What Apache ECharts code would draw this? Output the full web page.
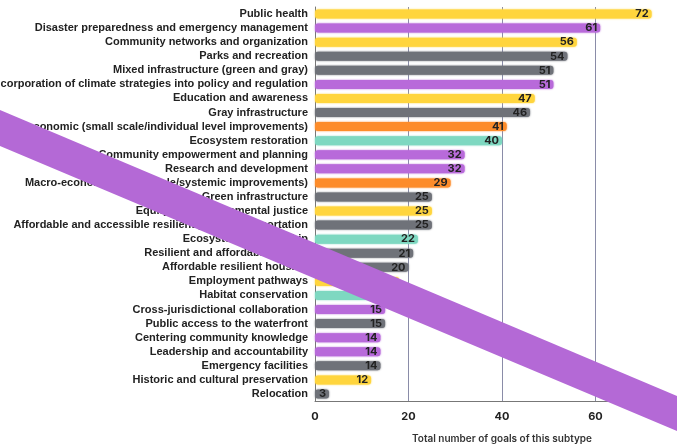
<!DOCTYPE html>
<html><head><meta charset="utf-8">
<script src="https://cdn.jsdelivr.net/npm/echarts@6/dist/echarts.min.js"></script>
<style>html,body{margin:0;padding:0;background:#fff}#c{width:677px;height:446px}</style>
</head><body><div id="c"></div>
<script>
const categories = [
  "Public health",
  "Disaster preparedness and emergency management",
  "Community networks and organization",
  "Parks and recreation",
  "Mixed infrastructure (green and gray)",
  "Incorporation of climate strategies into policy and regulation",
  "Education and awareness",
  "Gray infrastructure",
  "Micro-economic (small scale/individual level improvements)",
  "Ecosystem restoration",
  "Community empowerment and planning",
  "Research and development",
  "Macro-economic (large scale/systemic improvements)",
  "Green infrastructure",
  "Equity and environmental justice",
  "Affordable and accessible resilient public transportation",
  "Ecosystem stewardship",
  "Resilient and affordable energy",
  "Affordable resilient housing",
  "Employment pathways",
  "Habitat conservation",
  "Cross-jurisdictional collaboration",
  "Public access to the waterfront",
  "Centering community knowledge",
  "Leadership and accountability",
  "Emergency facilities",
  "Historic and cultural preservation",
  "Relocation"
];
const values = [72, 61, 56, 54, 51, 51, 47, 46, 41, 40, 32, 32, 29, 25, 25, 25, 22, 21, 20, 18, 17, 15, 15, 14, 14, 14, 12, 3];
const groups = ["y","p","y","g","g","p","y","g","o","t","p","p","o","g","y","g","t","g","g","y","t","p","g","p","p","g","y","g"];
const xTicks = [0, 20, 40, 60, 80];
const axisTitle = "Total number of goals of this subtype";

const palette = {y:"#FFD53D", p:"#B86ADA", g:"#6F7279", o:"#FD8C2A", t:"#7ED8C1"};
const chart = echarts.init(document.getElementById('c'));
chart.setOption({
  animation: false,
  grid: {left: 315, right: -12, top: 7, bottom: 45, containLabel: false, outerBoundsMode: 'none'},
  xAxis: {
    type: 'value', min: xTicks[0], max: xTicks[xTicks.length-1], interval: 20,
    name: axisTitle, nameLocation: 'middle', nameGap: 33,
    nameTextStyle: {fontFamily: 'Inter', fontWeight: 600, fontSize: 10, color: '#333'},
    axisLine: {show: true, lineStyle: {color: '#777', width: 1}},
    axisTick: {show: false},
    axisLabel: {fontFamily: 'Inter', fontWeight: 700, fontSize: 11, color: '#222', margin: 10},
    splitLine: {show: true, lineStyle: {color: '#8a8ca8', width: 1}}
  },
  yAxis: {
    type: 'category', data: categories, inverse: true,
    axisLine: {show: true, lineStyle: {color: '#777', width: 1}},
    axisTick: {show: false},
    axisLabel: {interval: 0, fontFamily: 'Liberation Sans', fontWeight: 'bold', fontSize: 11, color: '#222', margin: 7}
  },
  series: [{
    type: 'bar', barWidth: 9,
    data: values.map((v, i) => ({value: v, itemStyle: {color: palette[groups[i]], shadowColor: palette[groups[i]], shadowBlur: 2}})),
    itemStyle: {borderRadius: 3},
    label: {show: true, position: 'insideRight', distance: 3, fontFamily: 'Inter', fontWeight: 700, fontSize: 11, color: '#222'}
  }],
  graphic: [{
    type: 'polygon', z: 100,
    shape: {points: [[0, 110], [677, 396], [677, 431], [0, 146]]},
    style: {fill: '#B469D6'}
  }]
});
</script></body></html>
